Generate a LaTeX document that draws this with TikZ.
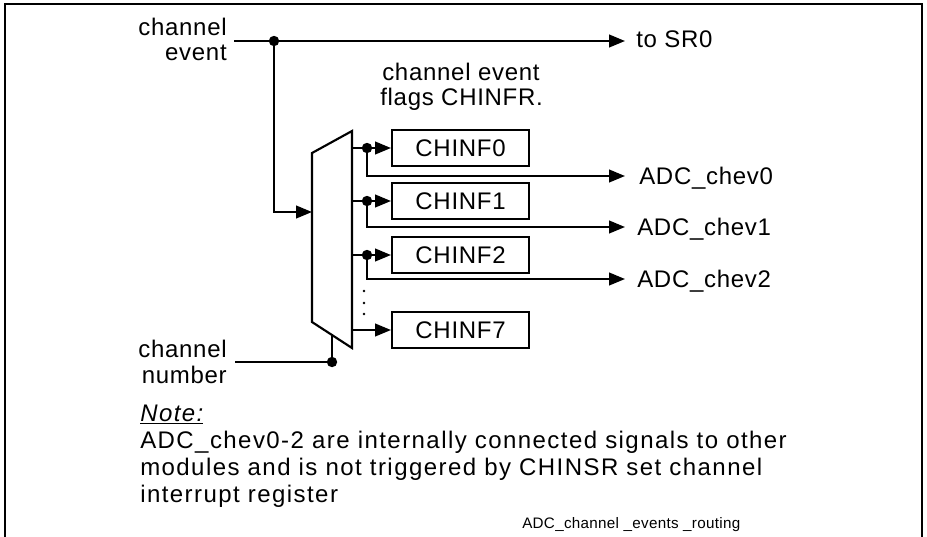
\documentclass[tikz,border=0pt]{standalone}
\usepackage{fontspec}
\setmainfont{Liberation Sans}[LetterSpace=3]
\newfontfamily\notefont{Liberation Sans}[LetterSpace=6]
\newfontfamily\capfont{Liberation Sans}[LetterSpace=2]
\usetikzlibrary{arrows.meta}
\begin{document}
\begin{tikzpicture}[x=0.75pt,y=-0.75pt,
  wire/.style={line width=1.6pt},
  arr/.style={wire,-{Triangle[length=12pt,width=9.5pt]}},
  dotc/.style={circle,fill,inner sep=0pt,minimum size=7.8pt},
  flagbox/.style={draw,line width=1.6pt,minimum width=102.75pt,minimum height=27pt,inner sep=0pt,anchor=west,font=\fontsize{18pt}{21pt}\selectfont},
  lbl/.style={inner sep=0pt,font=\fontsize{18pt}{21pt}\selectfont},
  lblw/.style={lbl,anchor=base west},
  lble/.style={lbl,anchor=base east},
  notetxt/.style={inner sep=0pt,anchor=base west,font=\notefont\fontsize{18pt}{21pt}\selectfont}]
\useasboundingbox (0,0) rectangle (927,536);
% frame
\draw[line width=1.7pt] (5,540) -- (5,4) -- (922,4) -- (922,540);

% channel event
\node[lble] (ce1) at (227,35) {channel};
\node[lble] (ce2) at (227,60) {event};
\coordinate (ceIn) at (234,41);
\node[dotc] (d0) at (274,41) {};
\coordinate (sr0) at (625,41);
\node[lblw] (tosr) at (636,47) {to SR0};
\draw[wire] (ceIn) -- (d0);
\draw[arr] (d0) -- (sr0);

% flags label
\node[lblw] (fl1) at (382,80) {channel event};
\node[lblw] (fl2) at (380,105) {flags CHINFR.};

% mux
\coordinate (mtl) at (312,153);
\coordinate (mtr) at (352,131);
\coordinate (mbr) at (352,348);
\coordinate (mbl) at (312,322);
\draw[wire,line join=miter] (mtl) -- (mtr) -- (mbr) -- (mbl) -- cycle;
\coordinate (min) at (312,212);
\draw[arr] (d0) |- (min);

% channel number
\node[lble] (cn1) at (227,357) {channel};
\node[lble] (cn2) at (227,383) {number};
\coordinate (cnIn) at (235,362);
\node[dotc] (dn) at (332,362) {};
\coordinate (mbot) at (332,335);
\draw[wire] (cnIn) -- (dn);
\draw[wire] (dn) -- (mbot);

% flag boxes
\node[flagbox] (b0) at (391,148) {CHINF0};
\node[flagbox] (b1) at (391,201) {CHINF1};
\node[flagbox] (b2) at (391,255) {CHINF2};
\node[flagbox] (b7) at (391,330) {CHINF7};

\coordinate (o0) at (352,148);
\coordinate (o1) at (352,201);
\coordinate (o2) at (352,255);
\coordinate (o7) at (352,330);
\node[dotc] (dd0) at (367,148) {};
\node[dotc] (dd1) at (367,201) {};
\node[dotc] (dd2) at (367,255) {};
\coordinate (a0) at (625,176);
\coordinate (a1) at (625,227);
\coordinate (a2) at (625,279);

\draw[wire] (o0) -- (dd0);
\draw[wire] (o1) -- (dd1);
\draw[wire] (o2) -- (dd2);
\draw[arr] (dd0) -- (b0.west);
\draw[arr] (dd1) -- (b1.west);
\draw[arr] (dd2) -- (b2.west);
\draw[arr] (o7) -- (b7.west);
\draw[arr] (dd0) |- (a0);
\draw[arr] (dd1) |- (a1);
\draw[arr] (dd2) |- (a2);

\node[lblw] (l0) at (639,184) {ADC\_chev0};
\node[lblw] (l1) at (637,235) {ADC\_chev1};
\node[lblw] (l2) at (637,287) {ADC\_chev2};

% ellipsis dots
\fill (364,291) circle (1.4);
\fill (364,303) circle (1.4);
\fill (364,314) circle (1.4);

% note
\node[notetxt] (nt) at (140,421) {\textit{\underline{Note:}}};
\node[notetxt] (n1) at (140,448) {ADC\_chev0-2 are internally connected signals to other};
\node[notetxt] (n2) at (140,475) {modules and is not triggered by CHINSR set channel};
\node[notetxt] (n3) at (140,502) {interrupt register};

% caption
\node[inner sep=0pt,anchor=base west,font=\capfont\fontsize{11.4pt}{14pt}\selectfont] (cap) at (522,528) {ADC\_channel \_events \_routing};
\end{tikzpicture}
\end{document}
